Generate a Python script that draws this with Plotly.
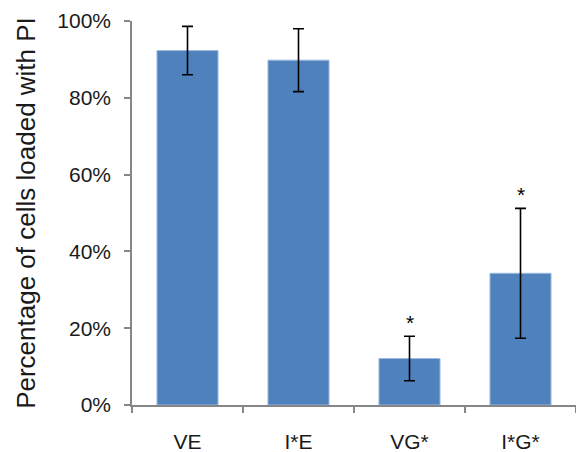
import plotly.graph_objects as go

# Percentage of cells loaded with PI, per condition (mean ± error)
categories = ["VE", "I*E", "VG*", "I*G*"]
means = [92.3, 89.8, 12.1, 34.3]
errors = [6.3, 8.2, 5.8, 16.9]
significant = [False, False, True, True]

bar_color = "#4F81BD"
axis_color = "#868686"
font_family = "Liberation Sans, Arial, sans-serif"

fig = go.Figure()
fig.add_trace(go.Bar(
    x=categories,
    y=means,
    marker=dict(color=bar_color, line=dict(color="#9DB9DE", width=1)),
    width=0.55,
    error_y=dict(type="data", array=errors, visible=True,
                 color="black", thickness=1.6, width=5.5),
    hoverinfo="skip",
))

# significance markers above the error bars
for cat, m, e, sig in zip(categories, means, errors, significant):
    if sig:
        fig.add_annotation(x=cat, y=m + e, text="*", showarrow=False,
                           yanchor="bottom", yshift=0,
                           font=dict(size=21, color="black", family=font_family))

fig.update_layout(
    width=576, height=452,
    margin=dict(l=132, r=0, t=21, b=47),
    paper_bgcolor="white", plot_bgcolor="white",
    showlegend=False,
    font=dict(family=font_family, color="#1a1a1a"),
    bargap=0.45,
)
fig.update_xaxes(
    range=[-0.5, 3.5], showline=True, linecolor=axis_color, linewidth=1.5,
    ticks="outside", tickson="boundaries", ticklen=6, tickcolor=axis_color,
    tickwidth=1.5, tickfont=dict(size=21, family=font_family), showgrid=False,
    zeroline=False, ticklabelstandoff=17,
)
fig.update_yaxes(
    range=[0, 100], tickvals=[0, 20, 40, 60, 80, 100],
    ticktext=["0%", "20%", "40%", "60%", "80%", "100%"],
    showline=True, linecolor=axis_color, linewidth=1.5,
    ticks="outside", ticklen=6, tickcolor=axis_color, tickwidth=1.5,
    tickfont=dict(size=21, family=font_family), showgrid=False, zeroline=False,
    ticklabelstandoff=9,
    title=dict(text="Percentage of cells loaded with PI",
               font=dict(size=26, family=font_family), standoff=14),
)

fig.write_html("out.html")
